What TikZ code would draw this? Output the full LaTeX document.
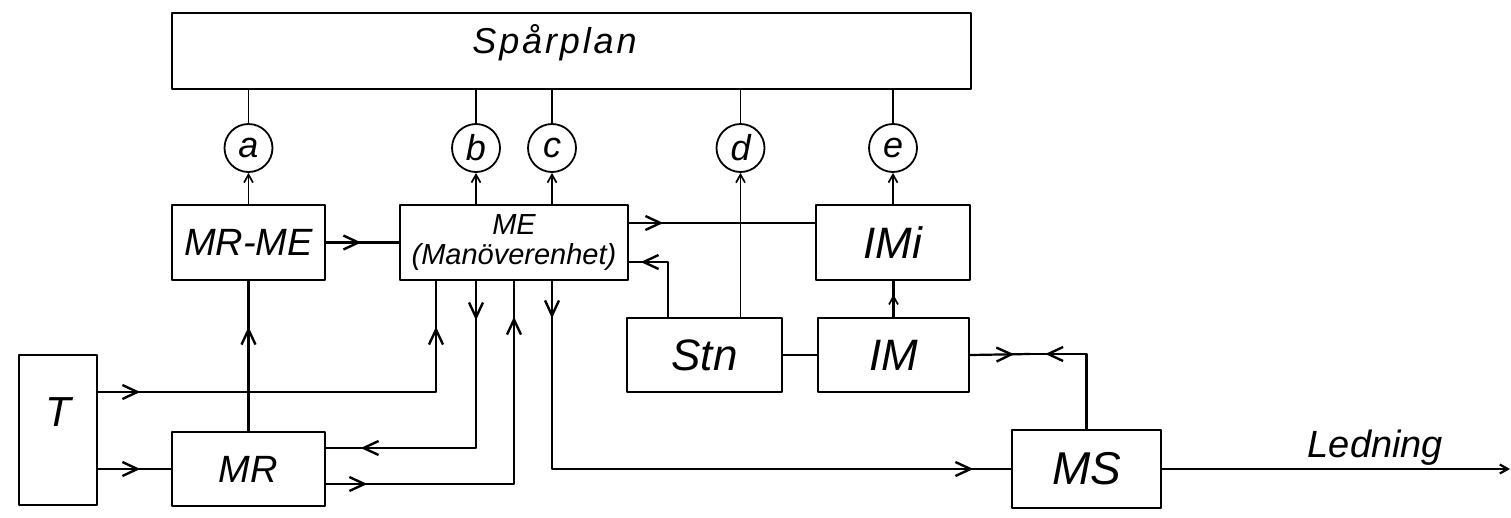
\documentclass[tikz,border=0pt]{standalone}
\usepackage{fontspec}
\setmainfont{Liberation Sans}
\usetikzlibrary{arrows.meta,decorations.markings}
\newcommand\hw[1]{\fontsize{#1}{#1}\selectfont\itshape}
\tikzset{
  box/.style={draw, line width=2.5pt, inner sep=0pt},
  circ/.style={draw, circle, line width=1.8pt, minimum size=48pt, inner sep=0pt, font=\hw{36}},
  conn/.style={line width=2.2pt},
  thinline/.style={line width=1.7pt},
  sarr/.style={line width=1.7pt, -{Straight Barb[length=8pt,width=9pt]}},
  arr/.style={postaction={decorate, decoration={markings, mark=at position #1 with {\arrow{Straight Barb[length=15pt,width=14pt,line width=2.4pt]}}}}},
  sarrm/.style={postaction={decorate, decoration={markings, mark=at position #1 with {\arrow{Straight Barb[length=8pt,width=9pt,line width=1.7pt]}}}}},
}
\begin{document}
\begin{tikzpicture}[x=1pt,y=-1pt,line cap=round,line join=round]
\useasboundingbox (0,0) rectangle (1511,517);
% boxes
\node[box, line width=2.8pt, minimum width=799pt, minimum height=76pt, font=\hw{36}\addfontfeature{LetterSpace=8}, text depth=24pt] (sp) at (571.5,51) {\hspace*{-34pt}Spårplan};
\node[box, minimum width=153pt, minimum height=75pt, font=\hw{38}] (mrme) at (248.5,242.5) {MR-ME};
\node[box, minimum width=228pt, minimum height=75pt, font={\fontsize{29}{30}\selectfont\itshape}, align=center] (me) at (514,242.5) {ME\\(Manöverenhet)};
\node[box, minimum width=154pt, minimum height=75pt, font=\hw{44}] (imi) at (893,242.5) {IMi};
\node[box, minimum width=155pt, minimum height=74pt, font=\hw{44}] (stn) at (704.5,355) {Stn};
\node[box, minimum width=151pt, minimum height=74pt, font=\hw{44}] (im) at (893.5,355) {IM};
\node[box, minimum width=78pt, minimum height=150pt, font=\hw{42}, text depth=36pt] (t) at (58,430) {T};
\node[box, minimum width=153pt, minimum height=74pt, font=\hw{38}] (mr) at (248.5,469) {MR};
\node[box, minimum width=149pt, minimum height=78pt, font=\hw{46}] (ms) at (1086.5,469) {MS};
% circles
\node[circ] (a) at (248.5,148) {a};
\node[circ] (b) at (476,148) {b};
\node[circ] (c) at (552,148) {c};
\node[circ] (d) at (740.5,148) {d};
\node[circ] (e) at (893,148) {e};
% free ends
\coordinate (j) at (1030,354);
\coordinate (lend) at (1510,469);
% Spårplan to circles
\foreach \n in {a,b,c,d,e} \draw[thinline] (\n.north) -- (\n.north |- sp.south);
% boxes to circles
\draw[sarr] (mrme.north) -- (a.south);
\draw[sarr] ([xshift=-38pt]me.north) -- (b.south);
\draw[sarr] ([xshift=38pt]me.north) -- (c.south);
\draw[sarr] ([xshift=36pt]stn.north) -- (d.south);
\draw[sarr] (imi.north) -- (e.south);
% connectors
\draw[conn, arr=35pt] (mrme.east) -- (me.west);
\draw[conn, arr=34pt] ([yshift=19.5pt]me.east) -- ([yshift=19.5pt]imi.west);
\draw[conn, arr=82pt] ([xshift=-36.5pt]stn.north) |- ([yshift=-19.5pt]me.east);
\draw[conn, sarrm=22pt] (im.north) -- (im.north |- imi.south);
\draw[conn] (stn.east) -- (im.west);
\draw[conn, arr=44pt] (im.east) -- (j);
\draw[conn, arr=116pt] (ms.north) |- (j);
\draw[conn, arr=42pt, arr=403pt] ([yshift=38pt]t.east) -| ([xshift=-78pt]me.south);
\draw[conn, arr=42pt] ([yshift=-39pt]t.east) -- (mr.west);
\draw[conn, arr=104pt] (mr.north) -- (mrme.south);
\draw[conn, arr=39pt, arr=282pt] ([xshift=-38pt]me.south) |- ([yshift=21pt]mr.east);
\draw[conn, arr=41pt, arr=355pt] ([yshift=-15pt]mr.east) -| (me.south);
\draw[conn, arr=37pt, arr=609pt] ([xshift=38pt]me.south) |- (ms.west);
\draw[conn, -{Straight Barb[length=8pt,width=9pt]}] (ms.east) -- node[pos=0.613, anchor=base, yshift=12pt, font=\hw{38}] (led) {Ledning} (lend);
\end{tikzpicture}
\end{document}
